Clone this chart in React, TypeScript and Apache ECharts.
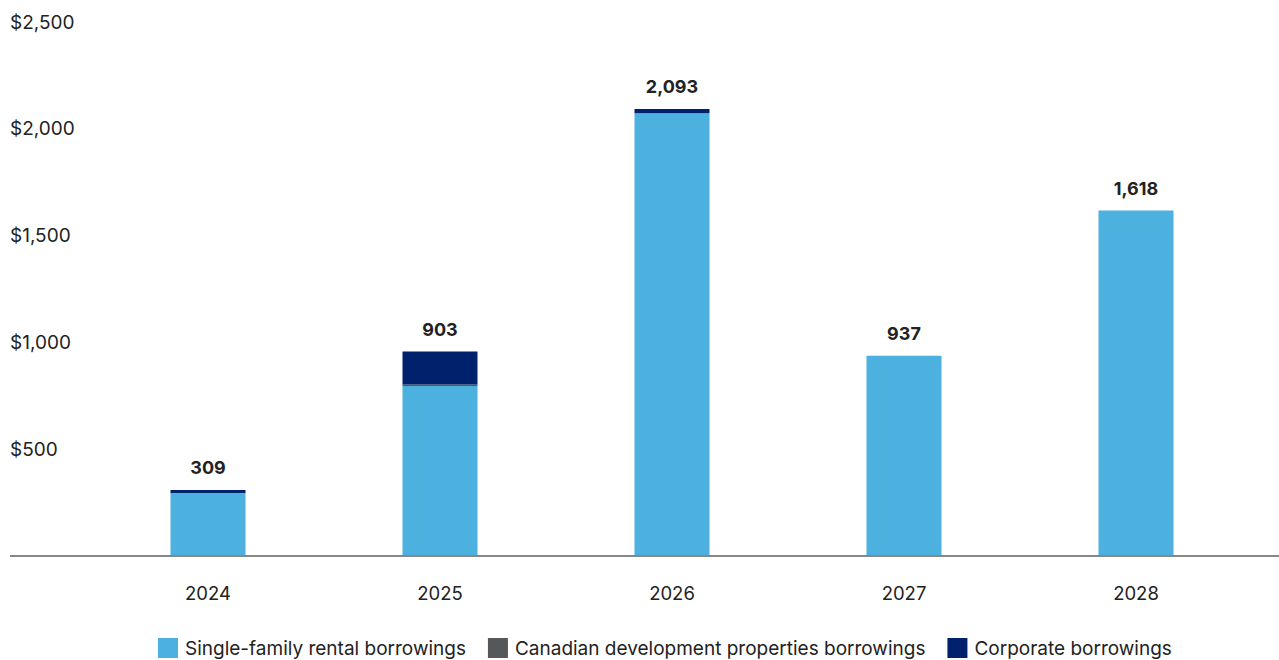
import React, { useEffect, useRef } from "react";
import * as echarts from "echarts";

const years = ["2024", "2025", "2026", "2027", "2028"];
const singleFamily = [295, 796, 2073, 937, 1618];
const canadian = [0, 7, 0, 0, 0];
const corporate = [14, 154, 20, 0, 0];
const totalLabels = ["309", "903", "2,093", "937", "1,618"];
const yTicks = [0, 500, 1000, 1500, 2000, 2500];

const FONT = "Inter";

export default function App() {
  const ref = useRef<HTMLDivElement>(null);
  useEffect(() => {
    const chart = echarts.init(ref.current!, undefined, { renderer: "svg" });
    chart.setOption({
      animation: false,
      textStyle: { fontFamily: FONT },
      grid: { left: 92, right: 27, top: 22, bottom: 104 },
      legend: {
        bottom: 2,
        left: 158,
        padding: 0,
        itemWidth: 20,
        itemHeight: 20,
        itemGap: 22,
        icon: "rect",
        textStyle: { fontSize: 19, color: "#222", fontFamily: FONT, padding: [0, 0, 0, 2] },
        data: ["Single-family rental borrowings", "Canadian development properties borrowings", "Corporate borrowings"],
      },
      xAxis: {
        type: "category",
        data: years,
        axisLine: { show: false },
        axisTick: { show: false },
        axisLabel: { fontSize: 18.5, color: "#222", margin: 27, fontFamily: FONT },
      },
      yAxis: {
        type: "value",
        min: 0,
        max: yTicks[yTicks.length - 1],
        interval: 500,
        splitLine: { show: false },
        axisLine: { show: false },
        axisTick: { show: false },
        axisLabel: {
          fontSize: 19,
          color: "#222",
          align: "left",
          margin: 82,
          fontFamily: FONT,
          formatter: (v: number) => (v === 0 ? "" : "$" + v.toLocaleString("en-US")),
        },
      },
      series: [
        {
          name: "Single-family rental borrowings",
          type: "bar",
          stack: "total",
          barWidth: 75,
          itemStyle: { color: "#4DB1E0" },
          data: singleFamily,
        },
        {
          name: "Canadian development properties borrowings",
          type: "bar",
          stack: "total",
          barWidth: 75,
          itemStyle: { color: "#55585A" },
          data: canadian,
        },
        {
          name: "Corporate borrowings",
          type: "bar",
          stack: "total",
          barWidth: 75,
          itemStyle: { color: "#00216B" },
          data: corporate,
          label: {
            show: true,
            position: "top",
            distance: 13,
            fontSize: 18,
            fontWeight: "bold",
            color: "#222",
            fontFamily: FONT,
            formatter: (p: any) => totalLabels[p.dataIndex],
          },
        },
      ],
      graphic: [
        {
          type: "line",
          shape: { x1: 10, y1: 556, x2: 1279, y2: 556 },
          style: { stroke: "#888", lineWidth: 2 },
          z: 10,
        },
      ],
    });
    return () => chart.dispose();
  }, []);
  return (
    <div
      ref={ref}
      style={{ position: "fixed", left: 0, top: 0, width: 1279, height: 660, background: "#fff" }}
    />
  );
}
